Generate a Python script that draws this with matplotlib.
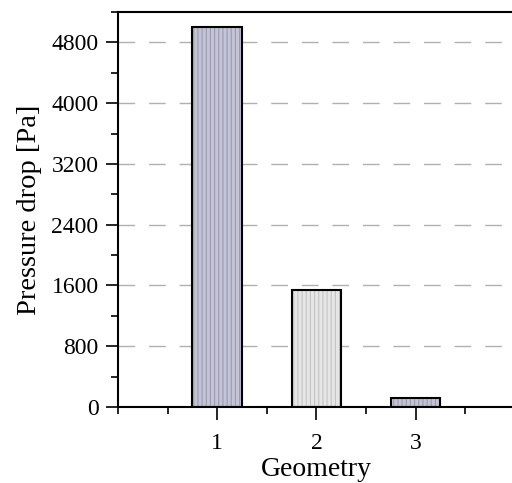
import matplotlib.pyplot as plt
import numpy as np
from matplotlib.ticker import MultipleLocator

# datos
geometry = [1, 2, 3]
pressure_drop = [5000, 1540, 120]
face_colors = ["#c4c4d6", "#e6e6e6", "#c4c4d6"]
hatch_colors = ["#9a9ab0", "#c4c4c4", "#9a9ab0"]

plt.rcParams["font.family"] = ["Liberation Serif", "DejaVu Serif"]
plt.rcParams["hatch.linewidth"] = 0.8

fig = plt.figure(figsize=[5.12, 4.83], dpi=100)
ax = fig.add_axes([0.2305, 0.1573, 0.775, 0.8178])

# relleno con rayado vertical, luego el contorno negro
for i in range(len(geometry)):
    ax.bar(geometry[i], pressure_drop[i], width=0.5, color=face_colors[i],
           edgecolor=hatch_colors[i], hatch="||||", linewidth=0, zorder=2)
ax.bar(geometry, pressure_drop, width=0.5, fill=False, edgecolor="black",
       linewidth=1.5, zorder=3)

ax.set(xlim=[0, 4], ylim=[0, 5200])
ax.set_xticks(geometry)
ax.xaxis.set_minor_locator(MultipleLocator(0.5))
ax.yaxis.set_major_locator(MultipleLocator(800))
ax.yaxis.set_minor_locator(MultipleLocator(400))
ax.tick_params(which="major", direction="out", length=9, width=1.2, labelsize=17)
ax.tick_params(which="minor", direction="out", length=5, width=1.2)
ax.tick_params(axis="x", which="major", pad=10)
ax.tick_params(axis="y", which="major", pad=5)

ax.grid(True, axis="y", color="#b0b0b0", linestyle=(0, (12, 10)), linewidth=1, zorder=0)
ax.set_axisbelow(True)

for s in ["left", "bottom", "top"]:
    ax.spines[s].set_linewidth(1.5)
ax.spines["right"].set_visible(False)

ax.set_xlabel("Geometry", fontsize=20, labelpad=2)
ax.set_ylabel("Pressure drop [Pa]", fontsize=20.5, labelpad=7)

fig.savefig("out.png", dpi=100)
